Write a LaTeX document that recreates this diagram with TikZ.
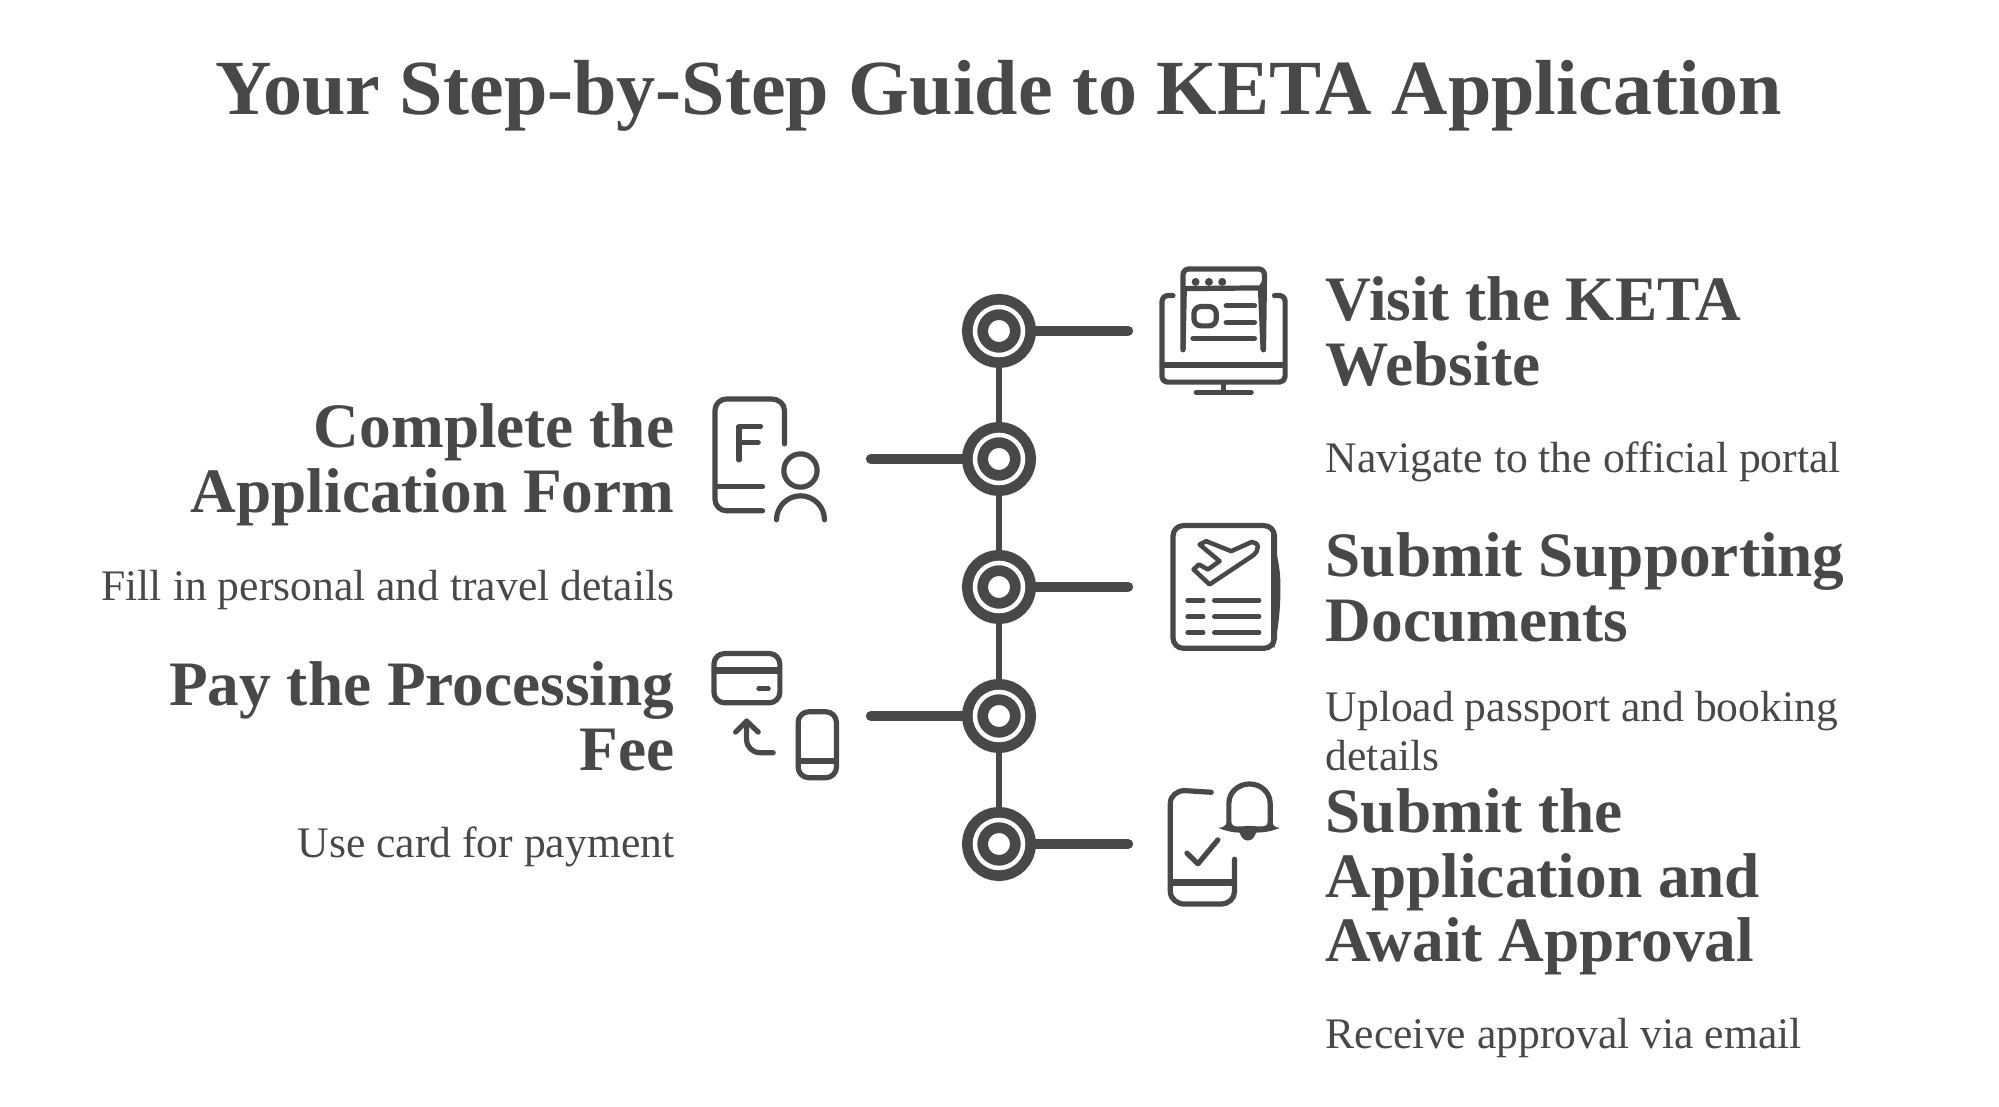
\documentclass[tikz,border=0pt]{standalone}
\usepackage{fontspec}
\setmainfont{Liberation Serif}
\definecolor{ink}{HTML}{484848}

\begin{document}
\begin{tikzpicture}[x=0.01cm,y=-0.01cm]

\tikzset{ring/.style = {shape=circle,draw=ink,fill=white,double=white,line width=0.1075cm,double distance=0.045cm,minimum size=0.48cm,inner sep=0pt,outer sep=0.13cm}}
\tikzset{link/.style = {draw=ink,line width=0.053cm}}
\tikzset{stub/.style = {draw=ink,line width=0.104cm,line cap=round}}
\tikzset{icon/.style = {draw=ink,line width=0.052cm,line cap=round,line join=round}}
\tikzset{zoomed/.style = {x=0.00333cm,y=-0.00333cm}}
\tikzset{title/.style = {text=ink,inner sep=0pt,font=\bfseries\fontsize{22.2}{26}\selectfont}}
\tikzset{heading/.style = {text=ink,inner sep=0pt,font=\bfseries\fontsize{18}{18.35}\selectfont}}
\tikzset{detail/.style = {text=ink,inner sep=0pt,font=\fontsize{12.4}{13.7}\selectfont}}

\useasboundingbox (0,0) rectangle (1999,1107);

%title
\node[title, anchor=base] (head) at (999,115) {Your Step-by-Step Guide to KETA Application};

%rings
\node[ring] (r1) at (999,331) {};
\node[ring] (r2) at (999,459) {};
\node[ring] (r3) at (999,587) {};
\node[ring] (r4) at (999,716) {};
\node[ring] (r5) at (999,844) {};
%free ends
\coordinate (e1) at (1128,331);
\coordinate (e2) at (871,459);
\coordinate (e3) at (1128,587);
\coordinate (e4) at (871,716);
\coordinate (e5) at (1128,844);
%edges
\draw [link] (r1) -- (r2);
\draw [link] (r2) -- (r3);
\draw [link] (r3) -- (r4);
\draw [link] (r4) -- (r5);
\draw [stub] (r1) -- (e1);
\draw [stub] (r2) -- (e2);
\draw [stub] (r3) -- (e3);
\draw [stub] (r4) -- (e4);
\draw [stub] (r5) -- (e5);

%texts right
\node[heading, anchor=north west, align=left] (t1) at (1325,276) {Visit the KETA\\Website};
\node[detail, anchor=base west] (d1) at (1325,473) {Navigate to the official portal};
\node[heading, anchor=north west, align=left] (t3) at (1325,532) {Submit Supporting\\Documents};
\node[detail, anchor=north west, align=left] (d3) at (1325,691) {Upload passport and booking\\details};
\node[heading, anchor=north west, align=left] (t5) at (1325,788) {Submit the\\Application and\\Await Approval};
\node[detail, anchor=base west] (d5) at (1325,1049) {Receive approval via email};
%texts left
\node[heading, anchor=north east, align=right] (t2) at (675,403) {Complete the\\Application Form};
\node[detail, anchor=base east] (d2) at (675,601) {Fill in personal and travel details};
\node[heading, anchor=north east, align=right] (t4) at (675,661) {Pay the Processing\\Fee};
\node[detail, anchor=base east] (d4) at (675,858) {Use card for payment};

%monitor and document
\begin{scope}[shift={(950,250)},zoomed]
\draw[icon] (700,300) -- (700,75) to[out=90,in=180] (718,57) -- (928,57) to[out=0,in=90] (945,75) -- (942,300);
\fill[ink] (925,115) -- (948,75) -- (948,200) -- (943,305) -- (933,300) -- cycle;
\fill[ink] (694,110) -- (712,110) -- (708,300) -- (694,300) -- cycle;
\draw[icon] (708,116) -- (930,114);
\fill[ink] (738,96) circle (12) (778,96) circle (12) (818,96) circle (12);
\draw[icon, rounded corners=2pt] (733,170) rectangle (800,228);
\draw[icon] (830,168) -- (915,168);
\draw[icon] (830,218) -- (915,218);
\draw[icon] (730,266) -- (915,266);
\draw[icon] (670,137) -- (655,137) to[out=180,in=90] (637,155) -- (637,380) to[out=270,in=180] (655,397) -- (990,397) to[out=0,in=270] (1007,380) -- (1007,155) to[out=90,in=0] (990,137) -- (975,137);
\draw[icon, line width=0.066cm] (640,345) -- (1003,345);
\draw[icon] (822,400) -- (822,425);
\draw[icon] (740,428) -- (905,428);
%document
\draw[icon, rounded corners=3pt] (670,828) rectangle (975,1197);
\fill[ink] (965,835) to[out=-80,in=90] (993,1010) to[out=-90,in=80] (975,1195) -- (965,1190) -- cycle;
\draw[icon, line width=0.045cm] (750,885) -- (770,875) -- (845,905) -- (905,878) to[out=0,in=90] (925,892) to[out=270,in=45] (912,917) -- (780,1005) -- (732,960) -- (748,945) -- (775,960) -- (810,935) -- cycle;
\foreach \ly in {1053,1102,1150} {
  \draw[icon] (715,\ly) -- (760,\ly);
  \draw[icon] (795,\ly) -- (928,\ly);
}
\end{scope}

%form and card
\begin{scope}[shift={(690,380)},zoomed]
\draw[icon] (284,192) -- (284,92) to[out=90,in=0] (245,57) -- (110,57) to[out=180,in=90] (75,92) -- (75,358) to[out=270,in=180] (110,393) -- (218,393);
\draw[icon] (78,320) -- (218,320);
\draw[icon] (147,240) -- (147,140) -- (212,140);
\draw[icon] (147,187) -- (205,187);
\draw[icon] (332,272) circle (50);
\draw[icon] (260,420) arc (180:360:72);
%card
\draw[icon, rounded corners=3pt] (72,822) rectangle (270,970);
\draw[icon, line width=0.066cm] (75,873) -- (265,873);
\draw[icon] (207,928) -- (235,928);
\draw[icon] (250,1120) -- (210,1120) to[out=180,in=270] (170,1080) -- (170,1025);
\draw[icon] (137,1058) -- (170,1025) -- (205,1058);
\draw[icon, rounded corners=3pt] (325,997) rectangle (440,1195);
\draw[icon] (330,1145) -- (435,1145);
\end{scope}

%phone and bell
\begin{scope}[shift={(950,760)},zoomed]
\draw[icon] (785,97) -- (705,92) to[out=180,in=90] (662,130) -- (662,395) to[out=270,in=180] (705,433) -- (815,433) to[out=0,in=270] (855,395) -- (855,298);
\draw[icon, line width=0.07cm] (665,368) -- (850,368);
\draw[icon] (712,280) -- (745,312) -- (805,240);
\draw[icon] (838,190) -- (838,130) to[out=90,in=180] (900,72) to[out=0,in=90] (962,130) -- (962,190);
\fill[ink] (832,185) to[out=-90,in=0] (806,204) to[out=-20,in=180] (870,218) to[out=-70,in=180] (895,242) to[out=0,in=-110] (920,218) to[out=0,in=200] (992,204) to[out=180,in=-90] (968,185) -- (955,185) to[out=-90,in=0] (900,198) to[out=180,in=-90] (845,185) -- cycle;
\end{scope}

\end{tikzpicture}
\end{document}
